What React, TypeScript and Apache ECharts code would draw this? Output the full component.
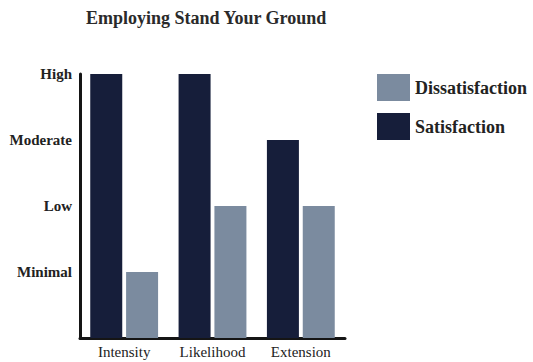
import React, { useEffect, useRef } from "react";
import * as echarts from "echarts";

// Ordinal scale: 1 = Minimal, 2 = Low, 3 = Moderate, 4 = High
const levelLabels = ["", "Minimal", "Low", "Moderate", "High"];
const categories = ["Intensity", "Likelihood", "Extension"];
const satisfaction = [4, 4, 3];
const dissatisfaction = [1, 2, 2];

const SERIF = "Liberation Serif";
const NAVY = "#161e3a";
const SLATE = "#7b8b9f";

export default function App() {
  const ref = useRef<HTMLDivElement>(null);

  useEffect(() => {
    document.body.style.margin = "0";
    if (!ref.current) return;
    const chart = echarts.init(ref.current, undefined, { renderer: "svg" });
    chart.setOption({
      animation: false,
      backgroundColor: "#ffffff",
      title: {
        text: "Employing Stand Your Ground",
        left: 81,
        top: 4,
        textStyle: {
          fontFamily: SERIF,
          fontSize: 18,
          fontWeight: "bold",
          color: "#2a2a2a",
        },
      },
      legend: {
        orient: "vertical",
        left: 372,
        top: 69,
        itemWidth: 33,
        itemHeight: 27,
        itemGap: 12,
        icon: "rect",
        data: ["Dissatisfaction", "Satisfaction"],
        textStyle: {
          fontFamily: SERIF,
          fontSize: 18,
          fontWeight: "bold",
          color: "#222222",
        },
      },
      grid: { left: 80, right: 188, top: 74, bottom: 24, containLabel: false },
      xAxis: {
        type: "category",
        data: categories,
        axisLine: { lineStyle: { color: "#151515", width: 3 } },
        axisTick: { show: false },
        axisLabel: {
          fontFamily: SERIF,
          fontSize: 15,
          color: "#222222",
          margin: 6,
        },
      },
      yAxis: {
        type: "value",
        min: 0,
        max: 4,
        interval: 1,
        axisLine: { show: true, lineStyle: { color: "#151515", width: 3 } },
        axisTick: { show: false },
        splitLine: { show: false },
        axisLabel: {
          fontFamily: SERIF,
          fontSize: 15,
          fontWeight: "bold",
          color: "#222222",
          margin: 8,
          formatter: (v: number) => levelLabels[v] ?? "",
        },
      },
      series: [
        {
          name: "Satisfaction",
          type: "bar",
          data: satisfaction,
          barWidth: 32,
          barGap: "12%",
          itemStyle: { color: NAVY },
        },
        {
          name: "Dissatisfaction",
          type: "bar",
          data: dissatisfaction,
          barWidth: 32,
          barGap: "12%",
          itemStyle: { color: SLATE },
        },
      ],
    });
    return () => chart.dispose();
  }, []);

  return <div ref={ref} style={{ width: 533, height: 362 }} />;
}
